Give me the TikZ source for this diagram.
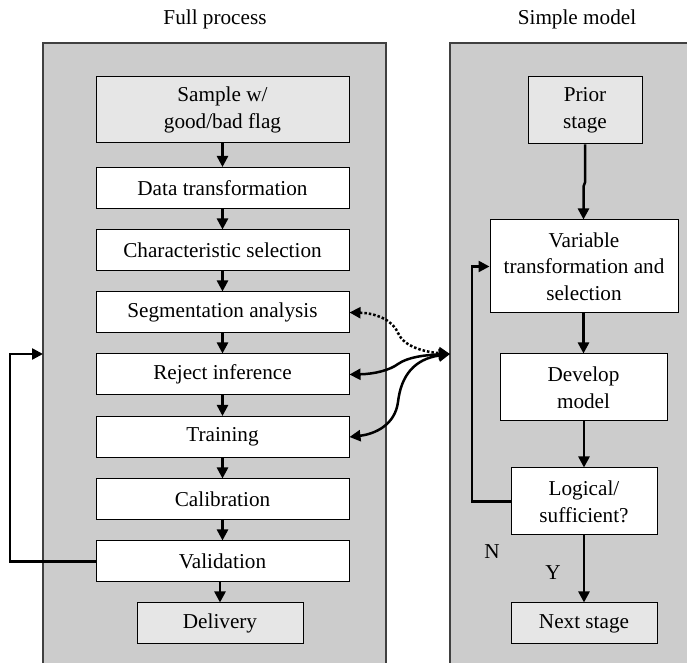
\documentclass[tikz,border=0pt]{standalone}
\usepackage{fontspec}
\setmainfont{Liberation Serif}
\usetikzlibrary{arrows.meta}
\definecolor{panelgray}{HTML}{CCCCCC}
\definecolor{lightbox}{HTML}{E6E6E6}
\definecolor{panelline}{HTML}{404040}
\begin{document}
\begin{tikzpicture}[x=0.5pt,y=-0.5pt,
  txt/.style={font=\fontsize{10.6}{13.3}\selectfont, align=center},
  box/.style={txt, draw=black, line width=0.5pt, fill=white, inner sep=0pt,
    minimum width=126.5pt, minimum height=20.5pt},
  lbox/.style={box, fill=lightbox},
  panel/.style={draw=panelline, line width=0.6pt, fill=panelgray},
  arr/.style={line width=1.25pt, -{Triangle[length=5.5pt,width=5.5pt]}},
  darr/.style={line width=1.25pt, {Triangle[length=5.5pt,width=5.5pt]}-{Triangle[length=5.5pt,width=6pt]}},
  plain/.style={line width=1.25pt}]
\clip (0,0) rectangle (687,663);
\fill[white] (0,0) rectangle (687,663);
% titles
\node[txt] (t1) at (215,19) {Full process};
\node[txt] (t2) at (577,19) {Simple model};
% panels
\draw[panel] (43,43) rectangle (386,720);
\draw[panel] (450,43) rectangle (740,720);
% left column
\node[lbox, minimum height=33pt] (sample) at (222.5,110) {Sample w/\\good/bad flag};
\node[box] (data) at (222.5,188) {Data transformation};
\node[box] (char) at (222.5,250.5) {Characteristic selection};
\node[box] (seg) at (222.5,312.5) {Segmentation analysis};
\node[box] (rej) at (222.5,374.5) {Reject inference};
\node[box] (train) at (222.5,437) {Training};
\node[box] (calib) at (222.5,499.5) {Calibration};
\node[box] (valid) at (222.5,561.5) {Validation};
\node[lbox, minimum width=83pt] (deliv) at (220,623.5) {Delivery};
% right column
\node[lbox, minimum width=57pt, minimum height=33.5pt] (prior) at (585,110.5) {Prior\\stage};
\node[box, minimum width=94pt, minimum height=46.5pt] (var) at (584,266.5) {Variable\\transformation and\\selection};
\node[box, minimum width=83.5pt, minimum height=33.5pt] (dev) at (583.5,387.5) {Develop\\model};
\node[box, minimum width=73pt, minimum height=33.5pt] (logic) at (584,501.5) {Logical/\\sufficient?};
\node[lbox, minimum width=73pt] (next) at (584,623.5) {Next stage};
% labels
\node[txt] (nlab) at (492,552) {N};
\node[txt] (ylab) at (553,573) {Y};
% left column arrows
\draw[arr] (sample.south -| data.north) -- (data.north);
\draw[arr] (data) -- (char);
\draw[arr] (char) -- (seg);
\draw[arr] (seg) -- (rej);
\draw[arr] (rej) -- (train);
\draw[arr] (train) -- (calib);
\draw[arr] (calib) -- (valid);
\draw[arr] (valid.south -| deliv.north) -- (deliv.north);
% right column arrows
\draw[arr] (prior.south) -- ++(0,38) -- ++(-1.5,4) -- (var.north -| 583.5,0);
\draw[arr] (var.south -| dev.north) -- (dev.north);
\draw[arr] (dev.south -| logic.north) -- (logic.north);
\draw[arr] (logic) -- (next);
% loops
\coordinate (lin) at (43,354);
\draw[arr] (valid.west) -- (10,561.5) |- (lin);
\draw[arr] (logic.west) -- (472,501.5) |- (var.west);
% curved connectors to the simple model
\coordinate (hub) at (450,354);
\draw[darr, densely dotted] (seg.east) .. controls (375,313) and (393,320) .. (398,333)
  .. controls (404,347) and (425,352) .. (hub);
\draw[darr] (rej.east) .. controls (375,374) and (390,370) .. (398,364)
  .. controls (408,357) and (425,355) .. (hub);
\draw[darr] (train.east) .. controls (375,434) and (395,425) .. (398,402)
  .. controls (401,376) and (414,359) .. (hub);
\end{tikzpicture}
\end{document}
